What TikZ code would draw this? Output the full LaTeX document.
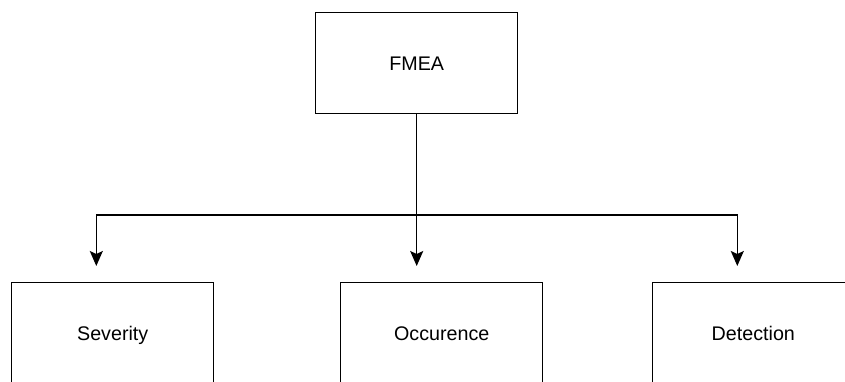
\documentclass[tikz,border=0pt]{standalone}
\usepackage{fontspec}
\setmainfont{Liberation Sans}
\usetikzlibrary{arrows.meta}
\begin{document}
\begin{tikzpicture}[x=1pt,y=-1pt,
  box/.style={draw, line width=1.5pt, minimum width=202pt, minimum height=100.6pt,
    inner sep=0pt, text height=14.1pt, text depth=0pt,
    font=\fontsize{19.7}{24}\selectfont},
  link/.style={line width=1.5pt, -{Stealth[length=15pt,width=13pt,inset=3pt]}}]
\useasboundingbox (0,0) rectangle (845,381);
\clip (0,0) rectangle (845,381);

% top-level analysis box
\node[box] (fmea) at (416.7,63) {FMEA};

% the three rating factors
\node[box] (sev) at (112.7,333) {Severity};
\node[box] (occ) at (441.7,333) {Occurence};
\node[box] (det) at (753.3,333) {Detection};

% branch point and arrow ends above each factor
\coordinate (hub) at (416.7,215);
\coordinate (sevin) at (96.3,266);
\coordinate (occin) at (416.7,266);
\coordinate (detin) at (737.3,266);

\draw[link] (fmea.south) -- (hub) -| (sevin);
\draw[link] (hub) -| (detin);
\draw[link] (hub) -- (occin);
\end{tikzpicture}
\end{document}
